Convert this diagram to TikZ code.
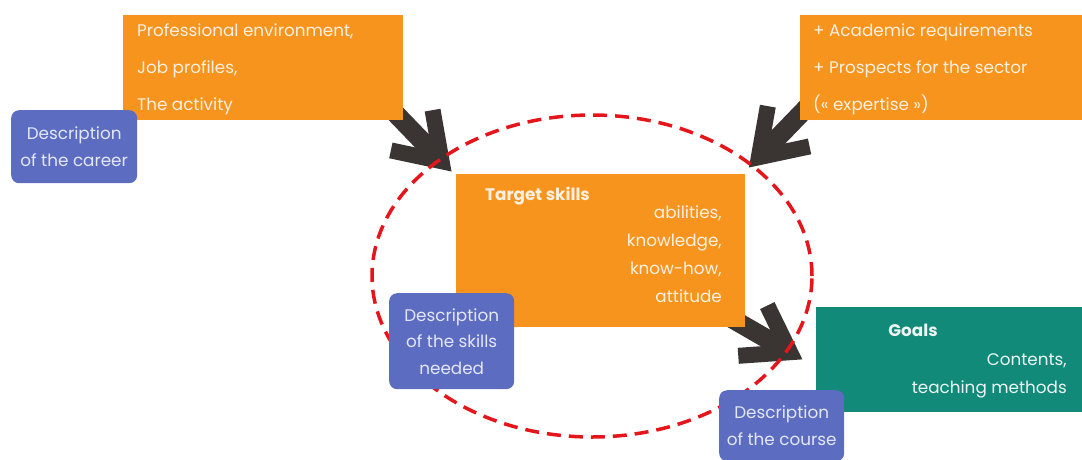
\documentclass[tikz,border=0pt]{standalone}
\usepackage{fontspec}
\setmainfont{Poppins}
\usetikzlibrary{backgrounds}
\definecolor{boxorange}{HTML}{F7941E}
\definecolor{textorange}{HTML}{FDF0E0}
\definecolor{goalteal}{HTML}{118A7A}
\definecolor{textteal}{HTML}{ECF5F3}
\definecolor{descblue}{HTML}{5C6CC0}
\definecolor{textblue}{HTML}{E4E7F7}
\definecolor{arrowgrey}{HTML}{3A3433}
\definecolor{loopred}{HTML}{E4161C}

\newcommand{\Chevron}[2]{% tip,angle
    \begin{scope}[shift={(#1)},rotate=#2]
        \draw[arrowgrey,line width=19pt] (-90,0) -- (-22,0);
        \draw[arrowgrey,line width=16pt,line join=miter] (-58,29) -- (-15,0) -- (-58,-29);
    \end{scope}
}

\begin{document}
\begin{tikzpicture}[x=1pt,y=-1pt,
    box/.style={inner sep=0pt,anchor=north west},
    words/.style={inner sep=0pt,text=textorange,font=\fontsize{16.8}{37}\selectfont},
    desc/.style={fill=descblue,text=textblue,rounded corners=8pt,inner sep=0pt,anchor=north west,
        align=center,minimum width=125pt,font=\fontsize{16.8}{26.5}\selectfont}]
    \useasboundingbox (0,0) rectangle (1082,459);
    \clip (0,0) rectangle (1082,459);

    % top boxes
    \node[box,fill=boxorange,minimum width=280pt,minimum height=105pt] (career) at (123,15) {};
    \node[words,anchor=base west,align=left] (careertext) at (137,110) {Professional environment,\\Job profiles,\\The activity};
    \node[box,fill=boxorange,minimum width=282pt,minimum height=105pt] (sector) at (800,15) {};
    \node[words,anchor=base west,align=left] (sectortext) at (813,110) {+ Academic requirements\\+ Prospects for the sector\\(« expertise »)};

    % target skills
    \node[box,fill=boxorange,minimum width=289pt,minimum height=153pt] (target) at (456,174) {};
    \node[words,anchor=base west,font=\fontsize{16.8}{28}\selectfont\bfseries] (targettitle) at (485,200) {Target skills};
    \node[words,anchor=base east,align=right,font=\fontsize{16.8}{27.7}\selectfont] (targetlist) at (722,302) {abilities,\\knowledge,\\know-how,\\attitude};

    % goals
    \node[box,fill=goalteal,minimum width=266pt,minimum height=105pt] (goals) at (816,307) {};
    \node[words,text=textteal,anchor=base,font=\fontsize{16.8}{28}\selectfont\bfseries] (goalstitle) at (913,336) {Goals};
    \node[words,text=textteal,anchor=base east,align=right,font=\fontsize{16.8}{28}\selectfont] (goalslist) at (1067,393) {Contents,\\teaching methods};

    % descriptions
    \node[desc,minimum width=126pt,minimum height=73pt] (desccareer) at (11,110) {Description\\of the career};
    \node[desc,minimum height=96pt] (descskills) at (389,293) {Description\\of the skills\\needed};
    \node[desc,minimum height=71pt] (desccourse) at (719,390) {Description\\of the course};

    \coordinate (tipcareer) at ([shift={(-4,-2)}]target.north west);
    \coordinate (tipsector) at ([shift={(3,-6)}]target.north east);
    \coordinate (tipgoals) at ([shift={(-13,0)}]goals.west);
    \coordinate (loopcentre) at (592,276);

    \begin{scope}[on background layer]
        \Chevron{tipcareer}{-46}
        \Chevron{tipsector}{-134}
        \Chevron{tipgoals}{-30}
        \draw[loopred,line width=3.5pt,dash pattern=on 14pt off 8pt] (loopcentre) ellipse [x radius=220pt,y radius=161pt];
    \end{scope}
\end{tikzpicture}
\end{document}
